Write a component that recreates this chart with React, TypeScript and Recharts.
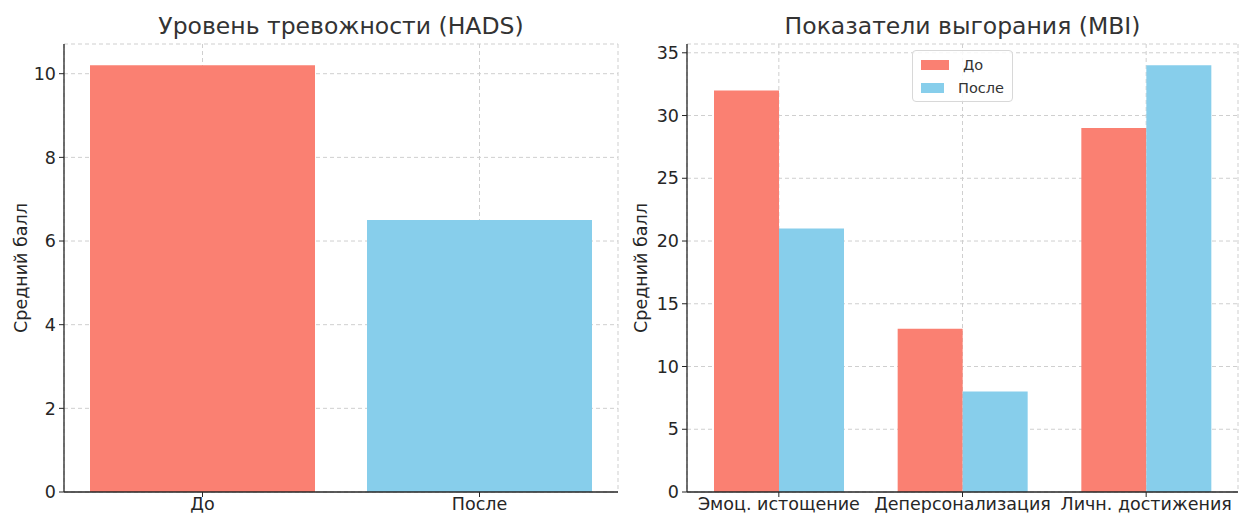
import React from 'react';
import { BarChart, Bar, XAxis, YAxis, CartesianGrid, Cell, Label } from 'recharts';

// HADS
const hadsCategories = ['До', 'После'];
const hadsValues = [10.2, 6.5];
const hadsTicks = [0, 2, 4, 6, 8, 10];

// MBI
const mbiCategories = ['Эмоц. истощение', 'Деперсонализация', 'Личн. достижения'];
const mbiBefore = [32, 13, 29];
const mbiAfter = [21, 8, 34];
const mbiTicks = [0, 5, 10, 15, 20, 25, 30, 35];

const seriesNames = ['До', 'После'];
const colors = ['#FA8072', '#87CEEB'];

const hadsData = hadsCategories.map((c, i) => ({ name: c, value: hadsValues[i] }));
const mbiData = mbiCategories.map((c, i) => ({ name: c, before: mbiBefore[i], after: mbiAfter[i] }));

const FONT = 'DejaVu Sans, sans-serif';
const tickStyle = { fill: '#262626', fontSize: 17.5 };

const YLabel = ({ viewBox }: any) => {
  const x = viewBox.x + 21;
  const y = viewBox.y + viewBox.height / 2;
  return (
    <text x={x} y={y} transform={`rotate(-90, ${x}, ${y})`} textAnchor="middle" dominantBaseline="central" fill="#262626" fontSize={17.5}>
      Средний балл
    </text>
  );
};

// legend drawn as html, so it doesn't shrink the plot
const LegendBox = () => (
  <div
    style={{
      position: 'absolute',
      left: 912,
      top: 50,
      border: '1px solid #d8d8d8',
      borderRadius: 4,
      background: 'rgba(255,255,255,0.85)',
      padding: '2px 8px 2px 8px',
      fontSize: 14.5,
      color: '#333',
      width: 83,
    }}
  >
    {seriesNames.map((n, i) => (
      <div key={n} style={{ display: 'flex', alignItems: 'center', height: 23 }}>
        <span style={{ display: 'inline-block', width: 28, height: 10, background: colors[i], marginRight: 14 }} />
        <span>{n}</span>
      </div>
    ))}
  </div>
);

const titleStyle = (left: number, width: number): React.CSSProperties => ({
  position: 'absolute',
  left,
  width,
  top: 11,
  textAlign: 'center',
  fontSize: 23.5,
  color: '#333',
  lineHeight: '30px',
});

export default function App() {
  return (
    <div style={{ position: 'fixed', left: 0, top: 0, width: 1240, height: 513, background: '#fff', fontFamily: FONT }}>
      <div style={titleStyle(64, 554)}>Уровень тревожности (HADS)</div>
      <div style={titleStyle(687, 551)}>Показатели выгорания (MBI)</div>

      <div style={{ position: 'absolute', left: 0, top: 0 }}>
        <BarChart width={620} height={513} data={hadsData} margin={{ top: 44, right: 2, bottom: 0, left: 0 }} barCategoryGap={26}>
          <CartesianGrid stroke="#cfcfcf" strokeDasharray="4 3" />
          <XAxis
            dataKey="name"
            interval={0}
            height={21}
            tick={tickStyle}
            tickSize={5}
            tickMargin={1}
            stroke="#262626"
            axisLine={{ stroke: '#262626', strokeWidth: 1.3 }}
          />
          <YAxis
            width={64}
            domain={[0, 10.71]}
            ticks={hadsTicks}
            tick={tickStyle}
            tickSize={5}
            tickMargin={3}
            stroke="#262626"
            axisLine={{ stroke: '#262626', strokeWidth: 1.3 }}
          >
            <Label content={<YLabel />} />
          </YAxis>
          <Bar dataKey="value" isAnimationActive={false}>
            {hadsData.map((d, i) => (
              <Cell key={d.name} fill={colors[i]} />
            ))}
          </Bar>
        </BarChart>
      </div>

      <div style={{ position: 'absolute', left: 620, top: 0 }}>
        <BarChart width={620} height={513} data={mbiData} margin={{ top: 44, right: 2, bottom: 0, left: 0 }} barCategoryGap={27} barGap={0}>
          <CartesianGrid stroke="#cfcfcf" strokeDasharray="4 3" />
          <XAxis
            dataKey="name"
            interval={0}
            height={21}
            tick={tickStyle}
            tickSize={5}
            tickMargin={1}
            stroke="#262626"
            axisLine={{ stroke: '#262626', strokeWidth: 1.3 }}
          />
          <YAxis
            width={67}
            domain={[0, 35.7]}
            ticks={mbiTicks}
            tick={tickStyle}
            tickSize={5}
            tickMargin={3}
            stroke="#262626"
            axisLine={{ stroke: '#262626', strokeWidth: 1.3 }}
          >
            <Label content={<YLabel />} />
          </YAxis>
          <Bar dataKey="before" name={seriesNames[0]} fill={colors[0]} isAnimationActive={false} />
          <Bar dataKey="after" name={seriesNames[1]} fill={colors[1]} isAnimationActive={false} />
        </BarChart>
      </div>

      <LegendBox />
    </div>
  );
}
